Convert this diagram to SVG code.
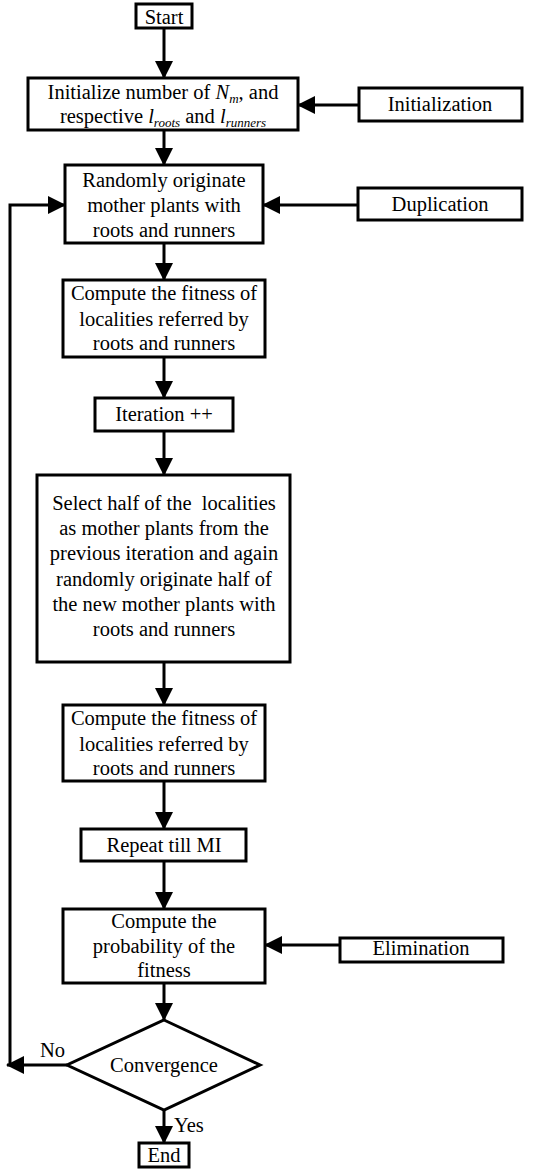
<svg xmlns="http://www.w3.org/2000/svg" width="545" height="1169" viewBox="0 0 545 1169">
<style>
.b{fill:#fff;stroke:#000;stroke-width:3}
.t{font-family:"Liberation Serif","Times New Roman",serif;font-size:20.5px;fill:#000;text-anchor:middle}
.l{font-family:"Liberation Serif","Times New Roman",serif;font-size:20.5px;fill:#000}
.c{fill:none;stroke:#000;stroke-width:3}
</style>
<defs>
<marker id="ah" viewBox="0 0 18 18" refX="17" refY="9" markerWidth="18" markerHeight="18" markerUnits="userSpaceOnUse" orient="auto">
<path d="M0,0 L18,9 L0,18 z" fill="#000"/>
</marker>
</defs>
<g id="connectors">
<path class="c" d="M164,28 V78" marker-end="url(#ah)"/>
<path class="c" d="M164,130 V165" marker-end="url(#ah)"/>
<path class="c" d="M359,105 H298" marker-end="url(#ah)"/>
<path class="c" d="M358,205 H263" marker-end="url(#ah)"/>
<path class="c" d="M164,243 V280" marker-end="url(#ah)"/>
<path class="c" d="M164,357 V398" marker-end="url(#ah)"/>
<path class="c" d="M164,431 V475" marker-end="url(#ah)"/>
<path class="c" d="M164,662 V705" marker-end="url(#ah)"/>
<path class="c" d="M164,781 V829" marker-end="url(#ah)"/>
<path class="c" d="M164,861 V909" marker-end="url(#ah)"/>
<path class="c" d="M340,945 H265" marker-end="url(#ah)"/>
<path class="c" d="M164,983 V1020" marker-end="url(#ah)"/>
<path class="c" d="M164,1110 V1143" marker-end="url(#ah)"/>
<path class="c" d="M67,1065 H7" marker-end="url(#ah)"/>
<path class="c" d="M10,1066 V205 H65" marker-end="url(#ah)"/>
<text class="l" x="40" y="1057">No</text>
<text class="l" x="174" y="1132">Yes</text>
</g>
<g id="start">
<rect class="b" x="136" y="4" width="56" height="24"/>
<text class="t" x="164" y="24">Start</text>
</g>
<g id="init">
<rect class="b" x="28" y="78" width="270" height="52"/>
<text class="t" x="163" y="99">Initialize number of <tspan font-style="italic">N</tspan><tspan font-style="italic" font-size="13" dy="4">m</tspan><tspan dy="-4">, and</tspan></text>
<text class="t" x="163" y="123">respective <tspan font-style="italic">l</tspan><tspan font-style="italic" font-size="13" dy="4">roots</tspan><tspan dy="-4"> and </tspan><tspan font-style="italic">l</tspan><tspan font-style="italic" font-size="13" dy="4">runners</tspan></text>
</g>
<g id="initialization">
<rect class="b" x="359" y="88" width="163" height="33"/>
<text class="t" x="440" y="111">Initialization</text>
</g>
<g id="randomly">
<rect class="b" x="65" y="165" width="198" height="78"/>
<text class="t" x="164" y="187">Randomly originate</text>
<text class="t" x="164" y="212">mother plants with</text>
<text class="t" x="164" y="237">roots and runners</text>
</g>
<g id="duplication">
<rect class="b" x="358" y="188" width="164" height="32"/>
<text class="t" x="440" y="211">Duplication</text>
</g>
<g id="compute1">
<rect class="b" x="63" y="280" width="202" height="77"/>
<text class="t" x="164" y="300">Compute the fitness of</text>
<text class="t" x="164" y="326">localities referred by</text>
<text class="t" x="164" y="350">roots and runners</text>
</g>
<g id="iteration">
<rect class="b" x="95" y="398" width="138" height="33"/>
<text class="t" x="164" y="421">Iteration ++</text>
</g>
<g id="select">
<rect class="b" x="37" y="475" width="253" height="187"/>
<text class="t" x="164" y="510" xml:space="preserve">Select half of the  localities</text>
<text class="t" x="164" y="535">as mother plants from the</text>
<text class="t" x="164" y="560">previous iteration and again</text>
<text class="t" x="164" y="586">randomly originate half of</text>
<text class="t" x="164" y="611">the new mother plants with</text>
<text class="t" x="164" y="636">roots and runners</text>
</g>
<g id="compute2">
<rect class="b" x="63" y="705" width="202" height="76"/>
<text class="t" x="164" y="725">Compute the fitness of</text>
<text class="t" x="164" y="751">localities referred by</text>
<text class="t" x="164" y="775">roots and runners</text>
</g>
<g id="repeat">
<rect class="b" x="81" y="829" width="165" height="32"/>
<text class="t" x="164" y="852">Repeat till MI</text>
</g>
<g id="probability">
<rect class="b" x="63" y="909" width="202" height="74"/>
<text class="t" x="164" y="928">Compute the</text>
<text class="t" x="164" y="953">probability of the</text>
<text class="t" x="164" y="977">fitness</text>
</g>
<g id="elimination">
<rect class="b" x="340" y="938" width="163" height="24"/>
<text class="t" x="421" y="955">Elimination</text>
</g>
<g id="convergence">
<polygon class="b" points="164,1020 260,1065 164,1110 67,1065"/>
<text class="t" x="164" y="1072">Convergence</text>
</g>
<g id="end">
<rect class="b" x="139" y="1143" width="50" height="24"/>
<text class="t" x="164" y="1162">End</text>
</g>
</svg>
